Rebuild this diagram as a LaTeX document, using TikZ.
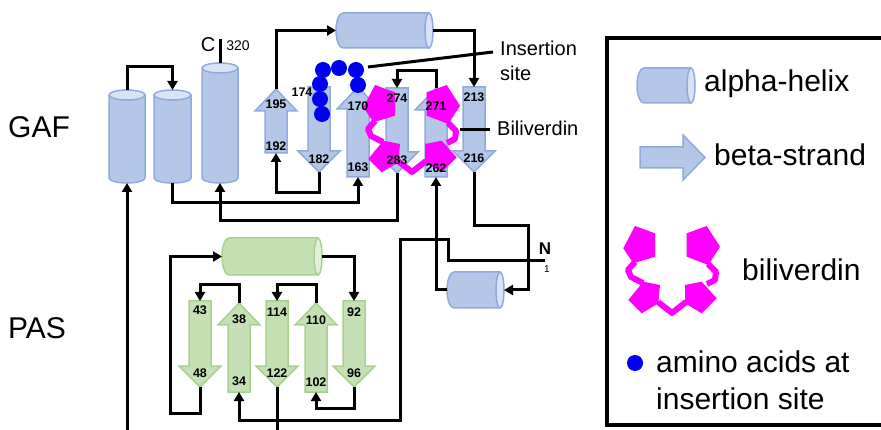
\documentclass[tikz,border=0pt]{standalone}
\usepackage{fontspec}
\setmainfont{Liberation Sans}
\usetikzlibrary{arrows.meta}

\definecolor{hfill}{HTML}{B4C7E7}
\definecolor{hline}{HTML}{8FAADC}
\definecolor{hcap}{HTML}{D9E3F3}
\definecolor{gfill}{HTML}{C5E0B4}
\definecolor{gline}{HTML}{A9D18E}
\definecolor{gcap}{HTML}{E2F0D9}
\definecolor{bvmag}{HTML}{FF00FF}
\definecolor{aablue}{HTML}{0000F0}

\tikzset{
  chainarrow/.style={line width=3pt, -{Triangle[length=9pt,width=10pt]}},
  chainline/.style={line width=3pt},
  sseoutline/.style={line width=1.5pt, line join=miter},
  resnum/.style={font=\fontsize{12.5}{14}\selectfont\bfseries, inner sep=0pt},
  domainlabel/.style={font=\fontsize{30}{34}\selectfont, inner sep=0pt, anchor=west},
  callout/.style={font=\fontsize{20}{23}\selectfont, inner sep=0pt, anchor=west},
  legendtext/.style={font=\fontsize{30}{34}\selectfont, inner sep=0pt, anchor=west},
  aadot/.style={circle, fill=aablue, minimum size=16pt, inner sep=0pt},
  bvchain/.style={bvmag, line width=6pt, line join=round},
}

% vertical cylinder: name, x1, x2, y of top ellipse centre, y of bottom ellipse centre
\newcommand\vcyl[5]{%
  \pgfmathsetmacro\cxm{(#2+#3)/2}\pgfmathsetmacro\crx{(#3-#2)/2}%
  \filldraw[fill=hfill, draw=hline, sseoutline] (#2,#4) -- (#2,#5)
    arc[start angle=180, end angle=0, x radius=\crx, y radius=5] -- (#3,#4);
  \draw[fill=hcap, draw=hline, sseoutline] (\cxm,#4) ellipse[x radius=\crx, y radius=5];
  \coordinate (#1-t) at (\cxm,{#4-5});
  \coordinate (#1-b) at (\cxm,{#5+5});
}
% horizontal cylinder: name, colour prefix, x left, x of right ellipse centre, y top, y bottom
\newcommand\hcyl[6]{%
  \pgfmathsetmacro\cym{(#5+#6)/2}\pgfmathsetmacro\cry{(#6-#5)/2}%
  \filldraw[fill=#2fill, draw=#2line, sseoutline] (#4,#5) -- ({#3+7},#5)
    arc[start angle=270, end angle=90, x radius=7, y radius=\cry] -- (#4,#6);
  \draw[fill=#2cap, draw=#2line, sseoutline] (#4,\cym) ellipse[x radius=4, y radius=\cry];
  \coordinate (#1-l) at (#3,\cym);
  \coordinate (#1-r) at ({#4+4},\cym);
}
% strand pointing up: name, colour prefix, x, y tip, y bottom
\newcommand\upstrand[5]{%
  \filldraw[fill=#2fill, draw=#2line, sseoutline]
    (#3,#4) -- ({#3+21},{#4+22}) -- ({#3+11},{#4+22}) -- ({#3+11},#5)
    -- ({#3-11},#5) -- ({#3-11},{#4+22}) -- ({#3-21},{#4+22}) -- cycle;
  \coordinate (#1-t) at (#3,#4);
  \coordinate (#1-b) at (#3,#5);
}
% strand pointing down: name, colour prefix, x, y top, y tip
\newcommand\downstrand[5]{%
  \filldraw[fill=#2fill, draw=#2line, sseoutline]
    (#3,#5) -- ({#3-21},{#5-21}) -- ({#3-11},{#5-21}) -- ({#3-11},#4)
    -- ({#3+11},#4) -- ({#3+11},{#5-21}) -- ({#3+21},{#5-21}) -- cycle;
  \coordinate (#1-t) at (#3,#4);
  \coordinate (#1-b) at (#3,#5);
}
% biliverdin: four pyrrole rings joined by a bent chain
\newcommand\biliverdin[1]{%
  \begin{scope}[shift={#1}]
    \draw[bvchain] (-36,-8) -- (-43,0) -- (-40,7) -- (-28,13);
    \draw[bvchain] (37,-6) -- (45,2) -- (44,10) -- (36,14);
    \draw[bvchain] (-13,32) -- (1,43) -- (15,32);
    \fill[bvmag] (-47.7,-21.7) -- (-36,-44) -- (-16,-36.7) -- (-16,-13.3) -- (-37.7,-6.7) -- cycle;
    \fill[bvmag] (15.7,-36.7) -- (35.7,-44) -- (49,-23.3) -- (37.3,-5) -- (15.7,-13.3) -- cycle;
    \fill[bvmag] (-42.7,30) -- (-27.7,11.7) -- (-11,15) -- (-12.7,33.3) -- (-29.3,43.3) -- cycle;
    \fill[bvmag] (14,15) -- (30.7,11.7) -- (45.7,28.3) -- (30.7,43.3) -- (14,33.3) -- cycle;
  \end{scope}%
}

\begin{document}
\begin{tikzpicture}[x=1pt, y=-1pt]
\useasboundingbox (0,0) rectangle (881,430);
\clip (0,0) rectangle (881,430);

% domain names
\node[domainlabel] (gaf) at (8,127) {GAF};
\node[domainlabel] (pas) at (8,328) {PAS};

% ---------------- GAF domain ----------------
\vcyl{H1}{109}{145}{95}{178}
\vcyl{H2}{154}{191}{95}{178}
\vcyl{H3}{202}{238}{68}{178}
\hcyl{Htop}{h}{336}{429}{13}{48}
\hcyl{Hsmall}{h}{447}{500}{272}{308}

\upstrand{s195}{h}{276}{89}{153}
\downstrand{s174}{h}{319}{87}{172}
\upstrand{s170}{h}{358}{87}{177}
\downstrand{s274}{h}{397}{88}{173}
\upstrand{s271}{h}{436}{88}{177}
\downstrand{s213}{h}{474}{87}{172}

\biliverdin{(411,129)}

% insertion-site residues
\node[aadot] (aa1) at (322,114) {};
\node[aadot] (aa2) at (320,99) {};
\node[aadot] (aa3) at (320,84) {};
\node[aadot] (aa4) at (323,70) {};
\node[aadot] (aa5) at (339,68) {};
\node[aadot] (aa6) at (356,70) {};
\node[aadot] (aa7) at (358,85) {};

% residue numbers
\node[resnum] (n195) at (276,104) {195};
\node[resnum] (n192) at (276,146) {192};
\node[resnum] (n174) at (302,92) {174};
\node[resnum] (n182) at (319,159) {182};
\node[resnum] (n170) at (358,106) {170};
\node[resnum] (n163) at (358,167) {163};
\node[resnum] (n274) at (397,98) {274};
\node[resnum] (n283) at (397,160) {283};
\node[resnum] (n271) at (436,106) {271};
\node[resnum] (n262) at (436,168) {262};
\node[resnum] (n213) at (474,97) {213};
\node[resnum] (n216) at (474,158) {216};

% termini
\node[font=\fontsize{20}{22}\selectfont, inner sep=0pt] (cterm) at (208,45) {C};
\node[font=\fontsize{14}{16}\selectfont, inner sep=0pt] (cnum) at (238,46) {320};
\coordinate (cend) at (220,39);
\node[font=\fontsize{17}{19}\selectfont\bfseries, inner sep=0pt] (nterm) at (545,249) {N};
\node[font=\fontsize{10}{12}\selectfont, inner sep=0pt] (nnum) at (547,269) {1};
\coordinate (nend) at (545,261);

% callouts
\coordinate (ins-a) at (368,67);
\coordinate (ins-b) at (493,52);
\node[callout] (ins) at (500,48) {Insertion};
\node[callout] (site) at (500,73) {site};
\coordinate (bv-a) at (460,130);
\coordinate (bv-b) at (490,130);
\node[callout] (bv) at (497,128) {Biliverdin};
\draw[chainline] (ins-a) -- (ins-b);
\draw[chainline] (bv-a) -- (bv-b);

% ---------------- PAS domain ----------------
\hcyl{gh}{g}{222}{318}{238}{275}
\downstrand{p43}{g}{200}{301}{387}
\upstrand{p38}{g}{239}{303}{392}
\downstrand{p114}{g}{277}{301}{387}
\upstrand{p110}{g}{316}{303}{392}
\downstrand{p92}{g}{354}{301}{387}

\node[resnum] (n43) at (200,310) {43};
\node[resnum] (n48) at (200,373) {48};
\node[resnum] (n38) at (239,319) {38};
\node[resnum] (n34) at (239,381) {34};
\node[resnum] (n114) at (277,312) {114};
\node[resnum] (n122) at (277,373) {122};
\node[resnum] (n110) at (316,320) {110};
\node[resnum] (n102) at (316,382) {102};
\node[resnum] (n92) at (354,312) {92};
\node[resnum] (n96) at (354,373) {96};

% ---------------- chain connections ----------------
\coordinate (bot1) at (127,432);
\coordinate (bot2) at (277,432);
\draw[chainarrow] (H1-t) -- ++(0,-23) -| (H2-t);
\draw[chainarrow] (bot1) -- (H1-b);
\draw[chainarrow] (H2-b) -- ++(0,20) -| (s170-b);
\draw[chainarrow] (s174-b) -- ++(0,21) -| (s195-b);
\draw[chainarrow] (s195-t) |- (Htop-l);
\draw[chainarrow] (Htop-r) -| (s213-t);
\draw[chainarrow] (s213-b) -- ++(0,54) -- ++(54,0) |- (Hsmall-r);
\draw[chainarrow] (Hsmall-l) -| (s271-b);
\draw[chainarrow] (s271-t) -- ++(0,-17) -| (s274-t);
\draw[chainarrow] (s274-b) -- ++(0,48) -| (H3-b);
\draw[chainline] (H3-t) -- (cend);
\draw[chainarrow] (nend) -- ++(-97,0) -- ++(0,-21) -- ++(-48,0) -- ++(0,180) -| (p38-b);
\draw[chainarrow] (p43-b) -- ++(0,26) -- ++(-30,0) |- (gh-l);
\draw[chainarrow] (gh-r) -| (p92-t);
\draw[chainarrow] (p38-t) -- ++(0,-18) -| (p43-t);
\draw[chainarrow] (p110-t) -- ++(0,-18) -| (p114-t);
\draw[chainarrow] (p92-b) -- ++(0,21) -| (p110-b);
\draw[chainline] (p114-b) -- (bot2);

% ---------------- legend ----------------
\draw[line width=4pt] (607,38) rectangle (900,425);
\hcyl{lh}{h}{637}{691}{68}{103}
\filldraw[fill=hfill, draw=hline, sseoutline] (640,147) -- (683,147) -- (683,135) -- (705,157.5)
  -- (683,180) -- (683,168) -- (640,168) -- cycle;
\biliverdin{(671,270)}
\node[aadot] (lgdot) at (635,363) {};
\node[legendtext] (lg1) at (704,84) {alpha-helix};
\node[legendtext] (lg2) at (714,155) {beta-strand};
\node[legendtext] (lg3) at (742,270) {biliverdin};
\node[legendtext] (lg4) at (656,362) {amino acids at};
\node[legendtext] (lg5) at (656,399) {insertion site};
\end{tikzpicture}
\end{document}
